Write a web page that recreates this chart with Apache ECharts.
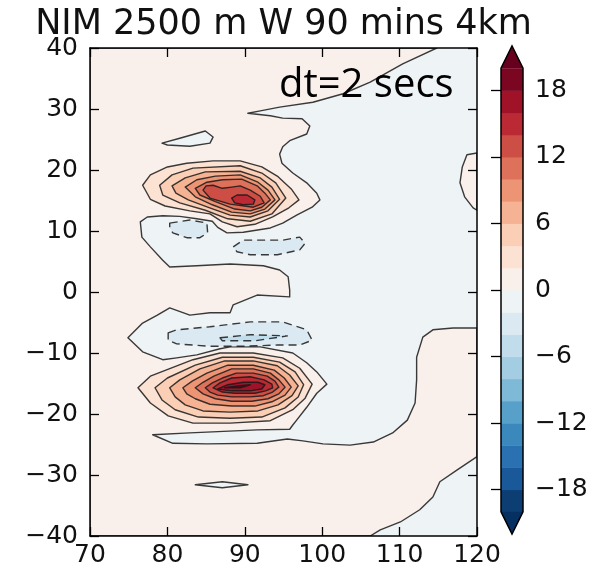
<!DOCTYPE html>
<html>
<head>
<meta charset="utf-8">
<script src="https://cdn.jsdelivr.net/npm/echarts@6/dist/echarts.min.js"></script>
<style>
  html, body { margin: 0; padding: 0; background: #fff; }
  #chart { width: 600px; height: 574px; }
</style>
</head>
<body>
<div id="chart"></div>
<script>
// ---- Field description: vertical velocity W, contoured every 2 units ----
const contourLevels = [-20, -18, -16, -14, -12, -10, -8, -6, -4, -2, 0, 2, 4, 6, 8, 10, 12, 14, 16, 18, 20];
const colorbarTicks = [-18, -12, -6, 0, 6, 12, 18];

// Domain (longitude, latitude)
const lonRange = [70, 120];
const latRange = [-40, 40];

// Zero contour enclosing the western positive area (follows the plot edges where it touches them)
const zeroMain = [
  [70, 40], [114.8, 40], [110.4, 37.4], [106.2, 34.4], [102.7, 32.5], [98.8, 31.1], [94.5, 30.3],
  [92.0, 29.7], [90.4, 29.3], [93.3, 28.9], [94.9, 28.5], [97.4, 28.4], [98.4, 27.2], [98.0, 25.9],
  [95.8, 24.8], [94.9, 23.8], [94.5, 22.6], [94.8, 21.1], [96.2, 19.5], [98.0, 17.9], [99.3, 16.2],
  [99.7, 15.1], [98.7, 13.9], [96.7, 12.6], [94.9, 11.3], [93.3, 10.5], [89.8, 9.8], [87.7, 9.7],
  [86.5, 10.6], [85.8, 11.6], [83.8, 12.0], [81.6, 12.4], [79.4, 12.5], [77.4, 12.3], [76.5, 11.5],
  [76.7, 9.0], [77.8, 7.4], [79.4, 5.2], [80.3, 4.1], [83.8, 4.3], [88.1, 4.6], [92.4, 4.3],
  [94.5, 3.6], [95.6, 2.5], [95.8, 0.3], [95.8, -0.8], [91.6, -0.5], [88.5, -2.1], [88.1, -3.4],
  [85.5, -3.4], [82.9, -3.8], [80.3, -2.6], [78.7, -3.8], [76.8, -5.1], [74.9, -7.5], [76.8, -9.8],
  [79.4, -11.1], [81.2, -10.8], [83.8, -10.3], [86.8, -9.3], [88.1, -9.0], [92.0, -9.0], [96.2, -10.0],
  [98.0, -11.6], [99.3, -13.1], [100.6, -15.1], [99.3, -16.6], [98.0, -18.9], [96.7, -21.0],
  [96.2, -21.8], [95.8, -22.5], [91.6, -22.6], [82.9, -23.1], [78.1, -23.4], [80.7, -24.8],
  [85.1, -24.9], [91.6, -24.8], [95.5, -24.1], [97.5, -24.4], [100.1, -24.9], [103.6, -25.1],
  [106.6, -24.6], [109.1, -23.1], [111.0, -21.0], [112.0, -18.2], [112.2, -14.4], [112.2, -10.7],
  [113.0, -7.4], [114.3, -6.2], [116.9, -5.9], [120, -5.9], [120, -27.0], [117.4, -29.2],
  [115.2, -31.1], [114.3, -33.6], [112.6, -35.7], [110.1, -37.7], [107.5, -39.0], [106.2, -40],
  [70, -40]
];
// Small positive patch on the eastern edge
const zeroEastPatch = [[120, 22.8], [118.7, 22.5], [118.1, 20.5], [117.8, 17.9], [118.4, 15.6], [119.5, 13.8], [120, 13.4]];
// Weak negative lenses inside the positive area
const zeroLensNorth = [[79.3, 24.4], [81.6, 25.2], [84.9, 26.4], [85.9, 25.4], [85.5, 24.4], [82.9, 23.9], [80.0, 24.1]];
const zeroLensSouth = [[83.6, -31.6], [87.1, -31.1], [90.4, -31.6], [87.1, -32.1]];

// -2 and -4 contours
const minus2NorthWest = [[80.3, 11.3], [82.9, 11.8], [85.1, 11.3], [85.2, 9.7], [84.2, 8.9], [82.5, 8.9], [80.7, 9.7], [80.3, 10.5]];
const minus2NorthEast = [[88.5, 7.4], [89.8, 8.5], [92.4, 8.5], [94.9, 8.5], [97.1, 9.0], [97.8, 8.0], [97.1, 6.9], [94.2, 6.1], [90.7, 6.1], [89.0, 6.6]];
const minus2South = [[80.1, -6.7], [81.2, -6.2], [85.5, -5.7], [90.7, -4.9], [94.9, -4.9], [98.0, -6.2], [98.7, -7.9], [97.1, -8.7], [94.2, -8.7], [89.8, -8.9], [85.5, -8.9], [81.2, -8.5], [80.1, -7.9]];
const minus4South = [[86.8, -7.5], [90.7, -7.0], [95.5, -7.2], [91.3, -8.0], [87.1, -8.0]];

// Northern updraft, contours 2 .. 14
const north2 = [[76.8, 17.5], [77.8, 19.2], [80.0, 20.5], [82.5, 21.1], [85.9, 21.5], [89.4, 21.5], [92.2, 20.5], [94.3, 18.9], [96.0, 16.9], [97.0, 15.1], [95.7, 13.8], [93.6, 12.3], [91.3, 11.1], [89.0, 10.7], [87.1, 11.5], [85.5, 12.8], [82.9, 13.3], [79.7, 14.1], [77.8, 15.2]];
const north4 = [[79.0, 17.5], [80.6, 19.2], [83.3, 20.3], [89.4, 20.7], [92.2, 19.5], [94.0, 17.9], [95.3, 15.4], [93.5, 12.8], [90.7, 11.6], [87.8, 12.0], [84.9, 13.4], [81.6, 14.6], [79.4, 15.9]];
const north6 = [[80.6, 17.4], [82.3, 18.7], [84.9, 19.7], [89.4, 19.8], [92.0, 18.7], [93.5, 17.2], [94.5, 15.2], [93.0, 13.3], [90.7, 12.3], [88.1, 12.6], [85.2, 13.9], [82.7, 15.1], [81.1, 16.2]];
const north8 = [[82.3, 17.2], [83.8, 18.4], [86.2, 19.0], [89.4, 19.2], [91.7, 18.0], [93.0, 16.7], [93.9, 15.1], [92.6, 13.6], [90.7, 12.8], [88.3, 13.1], [85.8, 14.3], [83.6, 15.6]];
const north10 = [[83.6, 17.0], [85.1, 18.0], [87.1, 18.4], [89.6, 18.5], [91.6, 17.4], [92.6, 16.2], [93.3, 15.1], [92.2, 13.9], [90.7, 13.3], [88.7, 13.6], [86.2, 14.8], [84.2, 15.9]];
const north12 = [[84.6, 16.7], [85.0, 17.4], [85.9, 17.5], [87.1, 17.0], [88.3, 17.2], [89.4, 17.4], [90.7, 16.7], [92.0, 15.7], [92.5, 14.6], [91.1, 13.9], [88.1, 14.4], [85.5, 15.4]];
const north14 = [[88.3, 15.4], [89.0, 15.9], [90.3, 15.9], [91.3, 15.1], [91.1, 14.4], [89.8, 14.3], [88.7, 14.6]];

// Southern updraft, contours 2 .. 18
const south2 = [[76.2, -15.7], [77.8, -13.8], [83.3, -11.1], [86.8, -10.0], [91.1, -10.0], [94.9, -10.8], [97.1, -12.5], [98.7, -15.1], [97.8, -17.4], [96.2, -19.3], [93.3, -21.1], [88.1, -21.5], [83.3, -21.5], [80.1, -20.3], [77.8, -18.2]];
const south4 = [[78.4, -15.7], [80.0, -14.1], [83.6, -12.0], [87.1, -10.7], [91.1, -10.7], [94.5, -11.5], [96.5, -13.1], [97.6, -15.2], [96.9, -17.2], [95.2, -19.0], [92.2, -20.5], [88.1, -20.7], [84.0, -20.5], [81.0, -19.3], [79.3, -17.7]];
const south6 = [[80.3, -15.7], [81.6, -14.4], [84.2, -12.6], [87.4, -11.3], [91.1, -11.3], [94.2, -12.1], [95.8, -13.6], [96.9, -15.4], [96.1, -17.0], [94.3, -18.5], [91.7, -19.5], [88.1, -19.7], [84.6, -19.5], [82.3, -18.5], [81.0, -17.2]];
const south8 = [[82.0, -15.7], [83.2, -14.6], [85.1, -13.3], [87.8, -12.0], [91.1, -12.0], [93.8, -12.8], [95.1, -14.1], [96.0, -15.6], [95.2, -16.9], [93.5, -18.0], [91.3, -18.7], [88.3, -18.7], [85.5, -18.4], [83.6, -17.5], [82.5, -16.7]];
const south10 = [[83.6, -15.7], [84.6, -14.8], [86.0, -13.8], [88.3, -12.6], [91.1, -12.6], [93.3, -13.3], [94.4, -14.4], [95.2, -15.6], [94.4, -16.7], [93.0, -17.5], [90.9, -17.9], [88.3, -17.9], [86.2, -17.5], [84.6, -16.7]];
const south12 = [[84.9, -15.7], [85.8, -14.9], [87.1, -14.1], [88.9, -13.3], [91.1, -13.3], [92.9, -13.8], [93.9, -14.6], [94.4, -15.6], [93.6, -16.4], [92.4, -17.0], [90.7, -17.2], [88.3, -17.2], [86.5, -16.9], [85.5, -16.4]];
const south14 = [[85.9, -15.7], [86.8, -14.9], [88.3, -14.1], [90.7, -13.9], [92.5, -14.4], [93.5, -15.1], [93.6, -15.7], [92.7, -16.2], [91.3, -16.6], [88.7, -16.6], [87.1, -16.4]];
const south16 = [[86.5, -15.9], [87.8, -15.2], [89.8, -14.8], [91.7, -14.8], [92.6, -15.2], [92.2, -15.9], [90.7, -16.2], [88.3, -16.2]];
const south18 = [[87.4, -15.7], [89.1, -15.4], [90.7, -15.2], [89.4, -15.7]];

// Drawing list: `line` is the contour value, `band` the lower bound of the filled interval inside it
const contours = [
  { line: null, band: -2, pts: [[lonRange[0], latRange[0]], [lonRange[1], latRange[0]], [lonRange[1], latRange[1]], [lonRange[0], latRange[1]]] },
  { line: 0, band: 0, pts: zeroMain },
  { line: 0, band: 0, pts: zeroEastPatch },
  { line: 0, band: -2, pts: zeroLensNorth },
  { line: 0, band: -2, pts: zeroLensSouth },
  { line: -2, band: -4, pts: minus2NorthWest },
  { line: -2, band: -4, pts: minus2NorthEast },
  { line: -2, band: -4, pts: minus2South },
  { line: -4, band: -6, pts: minus4South },
  { line: 2, band: 2, pts: north2 },
  { line: 4, band: 4, pts: north4 },
  { line: 6, band: 6, pts: north6 },
  { line: 8, band: 8, pts: north8 },
  { line: 10, band: 10, pts: north10 },
  { line: 12, band: 12, pts: north12 },
  { line: 14, band: 14, pts: north14 },
  { line: 2, band: 2, pts: south2 },
  { line: 4, band: 4, pts: south4 },
  { line: 6, band: 6, pts: south6 },
  { line: 8, band: 8, pts: south8 },
  { line: 10, band: 10, pts: south10 },
  { line: 12, band: 12, pts: south12 },
  { line: 14, band: 14, pts: south14 },
  { line: 16, band: 16, pts: south16 },
  { line: 18, band: 18, pts: south18 }
];

// ---- Colour map (reversed red-blue diverging) ----
const rdbuR = ['#053061', '#2166ac', '#4393c3', '#92c5de', '#d1e5f0', '#f7f7f7', '#fddbc7', '#f4a582', '#d6604d', '#b2182b', '#67001f'];
function hexToRgb(h) { return [parseInt(h.slice(1, 3), 16), parseInt(h.slice(3, 5), 16), parseInt(h.slice(5, 7), 16)]; }
function cmap(t) {
  t = Math.max(0, Math.min(1, t));
  const s = t * (rdbuR.length - 1);
  let i = Math.floor(s);
  if (i >= rdbuR.length - 1) i = rdbuR.length - 2;
  const f = s - i;
  const a = hexToRgb(rdbuR[i]), b = hexToRgb(rdbuR[i + 1]);
  const c = a.map((v, k) => Math.round(v + (b[k] - v) * f));
  return 'rgb(' + c.join(',') + ')';
}
const lvMin = contourLevels[0];
const lvMax = contourLevels[contourLevels.length - 1];
const lvStep = contourLevels[1] - contourLevels[0];
function bandColor(lo) {
  if (lo < lvMin) return cmap(0);
  if (lo >= lvMax) return cmap(1);
  return cmap((lo + lvStep / 2 - lvMin) / (lvMax - lvMin));
}
function fmt(v) { return v < 0 ? '\u2212' + Math.abs(v) : String(v); }

const FONT = 'DejaVu Sans';
const LINE = 'rgba(25,25,25,0.85)';
const extendFrac = 0.05;
const cbExt = extendFrac * (lvMax - lvMin);

const axisCommon = {
  type: 'value',
  splitLine: { show: false },
  axisLine: { show: true, onZero: false, lineStyle: { color: '#000', width: 1.5 } },
  axisTick: { show: true, inside: true, length: 9, lineStyle: { color: '#000', width: 1.3 } },
  z: 5
};

const chart = echarts.init(document.getElementById('chart'), null, { renderer: 'canvas' });

chart.setOption({
  animation: false,
  backgroundColor: '#fff',
  grid: [
    { left: 90, top: 48, width: 387, height: 488 },
    { left: 501, top: 46, width: 22, height: 488 }
  ],
  xAxis: [
    Object.assign({}, axisCommon, {
      gridIndex: 0, position: 'bottom', min: lonRange[0], max: lonRange[1], interval: 10,
      axisLabel: { fontSize: 25, fontFamily: FONT, color: '#111', margin: 7, formatter: fmt }
    }),
    Object.assign({}, axisCommon, {
      gridIndex: 0, position: 'top', min: lonRange[0], max: lonRange[1], interval: 10,
      axisLabel: { show: false }
    }),
    { type: 'value', gridIndex: 1, min: 0, max: 1, show: false }
  ],
  yAxis: [
    Object.assign({}, axisCommon, {
      gridIndex: 0, position: 'left', min: latRange[0], max: latRange[1], interval: 10,
      axisLabel: { fontSize: 25, fontFamily: FONT, color: '#111', margin: 12, formatter: fmt }
    }),
    Object.assign({}, axisCommon, {
      gridIndex: 0, position: 'right', min: latRange[0], max: latRange[1], interval: 10,
      axisLabel: { show: false }
    }),
    {
      type: 'value', gridIndex: 1, position: 'right', min: lvMin - cbExt, max: lvMax + cbExt,
      splitLine: { show: false },
      axisLine: { show: false },
      axisTick: { show: true, inside: true, length: 10, customValues: colorbarTicks, lineStyle: { color: '#000', width: 1.3 } },
      axisLabel: { fontSize: 25, fontFamily: FONT, color: '#111', margin: 12, customValues: colorbarTicks, formatter: fmt },
      z: 5
    }
  ],
  series: [
    {
      type: 'custom',
      name: 'W',
      xAxisIndex: 0,
      yAxisIndex: 0,
      clip: true,
      z: 2,
      data: contours.map((c, i) => [i]),
      renderItem: function (params, api) {
        const c = contours[params.dataIndex];
        const pts = c.pts.map(p => api.coord(p));
        const style = { fill: bandColor(c.band) };
        if (c.line === null) {
          style.stroke = null;
        } else {
          style.stroke = LINE;
          style.lineWidth = 1.4;
          style.lineJoin = 'round';
          if (c.line < 0) style.lineDash = [8, 5];
        }
        return { type: 'polygon', shape: { points: pts }, style: style };
      }
    },
    {
      type: 'custom',
      name: 'colorbar',
      xAxisIndex: 2,
      yAxisIndex: 2,
      z: 2,
      data: contourLevels.slice(0, -1).map((lo, i) => [i]),
      renderItem: function (params, api) {
        const i = params.dataIndex;
        const lo = contourLevels[i], hi = contourLevels[i + 1];
        const p0 = api.coord([0, hi]);
        const p1 = api.coord([1, lo]);
        const children = [{
          type: 'rect',
          shape: { x: p0[0], y: p0[1], width: p1[0] - p0[0], height: p1[1] - p0[1] + 0.5 },
          style: { fill: bandColor(lo) }
        }];
        if (i === 0) {
          children.push({
            type: 'polygon',
            shape: { points: [api.coord([0, lvMin]), api.coord([1, lvMin]), api.coord([0.5, lvMin - cbExt])] },
            style: { fill: bandColor(lvMin - lvStep) }
          });
        }
        if (i === contourLevels.length - 2) {
          children.push({
            type: 'polygon',
            shape: { points: [api.coord([0, lvMax]), api.coord([1, lvMax]), api.coord([0.5, lvMax + cbExt])] },
            style: { fill: bandColor(lvMax) }
          });
          children.push({
            type: 'polygon',
            z2: 10,
            shape: {
              points: [
                api.coord([0, lvMin]), api.coord([0, lvMax]), api.coord([0.5, lvMax + cbExt]),
                api.coord([1, lvMax]), api.coord([1, lvMin]), api.coord([0.5, lvMin - cbExt])
              ]
            },
            style: { fill: null, stroke: '#000', lineWidth: 1.5 }
          });
        }
        return { type: 'group', children: children };
      }
    }
  ],
  graphic: [
    {
      type: 'text', z: 100, x: 283.5, y: 25,
      style: {
        text: 'NIM 2500 m W 90 mins 4km', font: '35px "DejaVu Sans"', fill: '#111',
        textAlign: 'center', textVerticalAlign: 'middle', align: 'center', verticalAlign: 'middle'
      }
    },
    {
      type: 'text', z: 100, x: 279, y: 86,
      style: {
        text: 'dt=2 secs', font: '40px "Open Sans"', fill: '#000',
        textAlign: 'left', textVerticalAlign: 'middle', align: 'left', verticalAlign: 'middle'
      }
    }
  ]
});
</script>
</body>
</html>
